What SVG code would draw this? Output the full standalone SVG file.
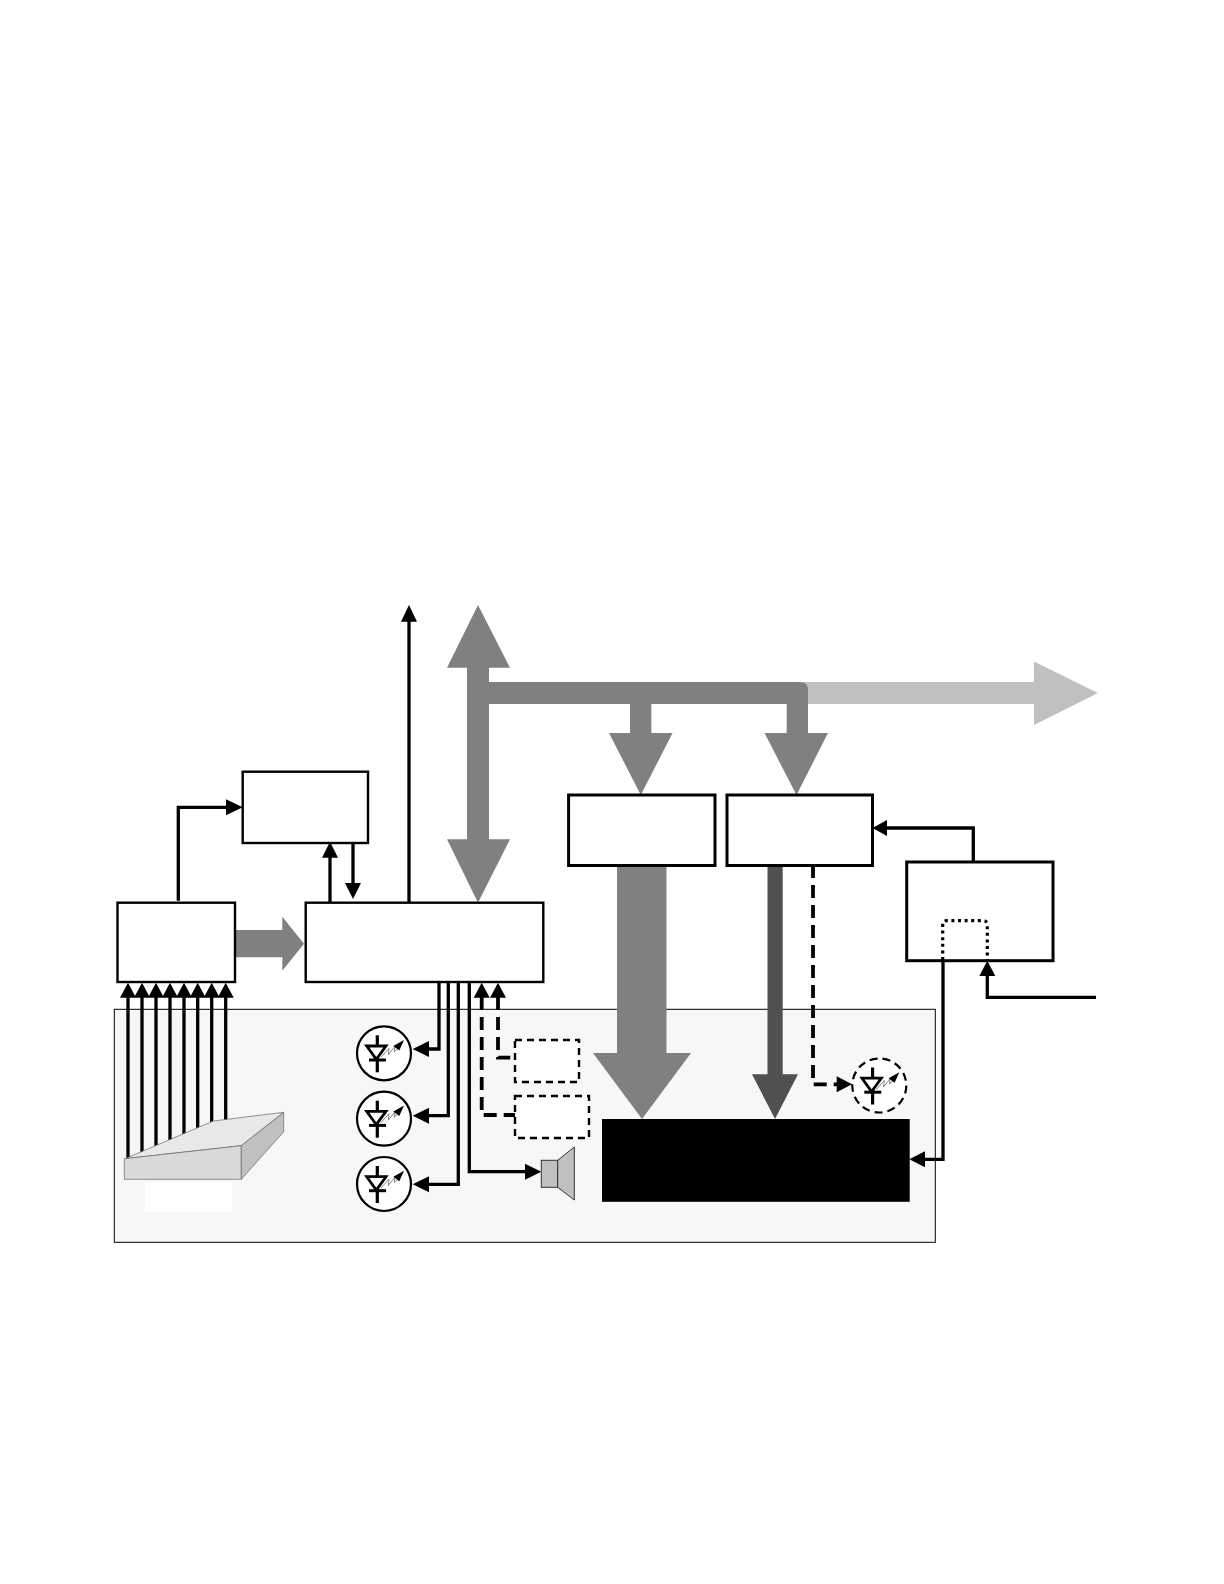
<svg xmlns="http://www.w3.org/2000/svg" xmlns:xlink="http://www.w3.org/1999/xlink" width="1224" height="1584" viewBox="0 0 1224 1584">
<style>
.box{fill:#fff;stroke:#000;stroke-width:2.4}
.boxt{fill:#fff;stroke:#000;stroke-width:3}
.dbox{fill:#fff;stroke:#000;stroke-width:2.400;stroke-dasharray:7 5}
.ln{fill:none;stroke:#000;stroke-width:3.300}
.dash{fill:none;stroke:#000;stroke-width:3.800;stroke-dasharray:13 7}
.head{fill:#000}
.bus{fill:#808080}
.slab{stroke:#666;stroke-width:.7}
</style>
<defs>
<g id="led">
<path d="M-6.700-18V19" stroke="#000" stroke-width="3.200" fill="none"/>
<path d="M-17.300-7.300H2L-7.700 6Z" fill="#fff" stroke="#000" stroke-width="2.800"/>
<path d="M-15 6.700H2" stroke="#000" stroke-width="3" fill="none"/>
<path d="M-3 4L5-5L4.300 1.500L11-7L10.300-1.500L14-5" fill="none" stroke="#777" stroke-width=".9"/>
<path d="M20-13.300L9.300-7.300L15.300-2.700Z" fill="#000"/>
</g>
</defs>
<rect width="1224" height="1584" fill="#fff"/>
<g id="panel">
<rect x="114.300" y="1009.300" width="821" height="233" fill="#f7f7f7" stroke="#000" stroke-width="1"/>
<rect x="145" y="1182.700" width="87.300" height="29" fill="#fff"/>
</g>
<g id="connectors">
<path class="ln" d="M128 1159V997M142 1153V997M156 1147V997M170 1141V997M184 1135V997M197.700 1129V997M211.700 1123V997M225.700 1120V997"/>
<path class="head" d="M128 982.700l8 15h-16zM142 982.700l8 15h-16zM156 982.700l8 15h-16zM170 982.700l8 15h-16zM184 982.700l8 15h-16zM197.700 982.700l8 15h-16zM211.700 982.700l8 15h-16zM225.700 982.700l8 15h-16z"/>
<path class="bus" d="M235.300 930H282.300V916.700L304 943.700L282.300 970.700V957.300H235.300Z"/>
<path class="ln" d="M178.300 900.700V807.300H228"/>
<path class="head" d="M242.700 807.300L226 799.300V815.300Z"/>
<path class="ln" d="M330 902.700V856"/>
<path class="head" d="M330 841.700l8 16h-16z"/>
<path class="ln" d="M353 843V885"/>
<path class="head" d="M353 899l8-16h-16z"/>
<path class="ln" d="M409 902.700V620"/>
<path class="head" d="M409 605l8 16.700h-16z"/>
<path fill="#c0c0c0" d="M790 682H1034V661.500L1098 693L1034 725V704H790Z"/>
<path class="bus" d="M478 605L510 667.700H489V682H800Q808 682 808 690V733H828L796.500 795L764.500 733H786.700V704H651.400V733H672.600L640.800 795L609 733H630V704H489V839.300H510L478 902.700L447 839.300H467V667.700H447Z"/>
<path class="bus" d="M617 865H666.500V1053H691L642 1119L593 1053H617Z"/>
<path fill="#505050" d="M767.500 865H782.700V1074.300H798L775 1119L752 1074.300H767.500Z"/>
<path class="dash" d="M813 865V1084.300H838"/>
<path class="head" d="M852 1084.300L836.700 1076.300V1092.300Z"/>
<path class="ln" d="M973.300 862V828H886"/>
<path class="head" d="M872.500 828L887 820V836Z"/>
<path class="ln" d="M943 960V1159.300H923"/>
<path class="head" d="M909.300 1159.300L925 1151.300V1167.300Z"/>
<path class="ln" d="M987.300 974V997.300H1096"/>
<path class="head" d="M987.300 960.700l8 15.300h-16z"/>
<path class="ln" d="M439 982V1049H427"/>
<path class="head" d="M412.700 1049L429 1041V1057Z"/>
<path class="ln" d="M448.300 982V1115.700H427"/>
<path class="head" d="M412.700 1115.700L429 1107.700V1123.700Z"/>
<path class="ln" d="M458.300 982V1184.300H427"/>
<path class="head" d="M412.700 1184.300L429 1176.300V1192.300Z"/>
<path class="ln" d="M469.300 982V1171.700H527"/>
<path class="head" d="M541.300 1171.700L525 1163.700V1179.700Z"/>
<path class="dash" d="M481.700 997V1115H515"/>
<path class="head" d="M481.700 982.700l8 15h-16z"/>
<path class="dash" d="M498 997V1057.700H515"/>
<path class="head" d="M498 982.700l8 15h-16z"/>
</g>
<g id="sensor">
<path class="slab" fill="#e8e8e8" d="M125 1158.700L213.300 1121L283.700 1112.300L241.300 1145.700Z"/>
<path class="slab" fill="#d9d9d9" d="M124.300 1158.700L241.300 1145.700V1179.300H124.300Z"/>
<path class="slab" fill="#c0c0c0" d="M241.300 1145.700L283.700 1112.300V1131.700L241.300 1179.300Z"/>
</g>
<g id="box-a"><rect class="box" x="117.500" y="902.700" width="117.500" height="79.300"/></g>
<g id="box-b"><rect class="box" x="242.700" y="771.700" width="125.300" height="71.300"/></g>
<g id="box-c"><rect class="box" x="305.700" y="902.700" width="237.600" height="79.300"/></g>
<g id="box-d"><rect class="boxt" x="568.600" y="795" width="146.400" height="70.500"/></g>
<g id="box-e"><rect class="boxt" x="727" y="795" width="145.500" height="70.500"/></g>
<g id="box-f"><rect class="boxt" x="906.700" y="862" width="146.300" height="98.700"/>
<path fill="none" stroke="#000" stroke-width="3.200" stroke-dasharray="3 3.600" d="M942.700 960V925Q942.700 920.700 947 920.700H983Q987.300 920.700 987.300 925V960"/></g>
<g id="display"><rect x="602" y="1119" width="307.700" height="82.800" fill="#000"/></g>
<g id="dash-box-1"><rect class="dbox" x="515" y="1040" width="64" height="42"/></g>
<g id="dash-box-2"><rect class="dbox" x="515" y="1096" width="74" height="42"/></g>
<g id="led-1"><circle cx="384" cy="1053.300" r="27" fill="#fff" stroke="#000" stroke-width="2.200"/><use xlink:href="#led" href="#led" x="384" y="1053.300"/></g>
<g id="led-2"><circle cx="384" cy="1118.700" r="27" fill="#fff" stroke="#000" stroke-width="2.200"/><use xlink:href="#led" href="#led" x="384" y="1118.700"/></g>
<g id="led-3"><circle cx="384" cy="1184" r="27" fill="#fff" stroke="#000" stroke-width="2.200"/><use xlink:href="#led" href="#led" x="384" y="1184"/></g>
<g id="led-4"><circle cx="879.300" cy="1085.500" r="27" fill="#fff" stroke="#000" stroke-width="2.200" stroke-dasharray="8 5"/><use xlink:href="#led" href="#led" x="879.300" y="1085.500"/></g>
<g id="speaker">
<rect x="541.300" y="1160.300" width="16.400" height="27" fill="#c0c0c0" stroke="#333" stroke-width="1"/>
<path d="M557.700 1160.300L574.300 1147V1200L557.700 1187.300Z" fill="#c0c0c0" stroke="#333" stroke-width="1"/>
</g>
</svg>
